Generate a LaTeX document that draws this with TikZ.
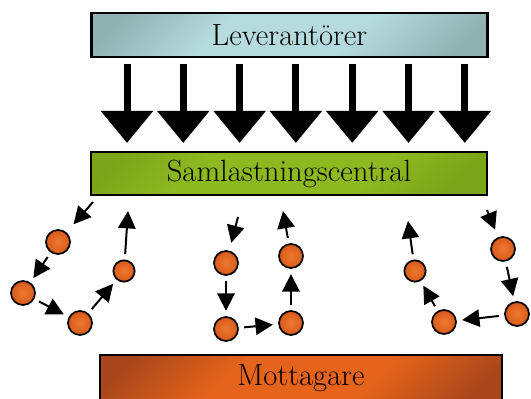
\documentclass[tikz,border=0pt]{standalone}
\usetikzlibrary{arrows.meta}
\definecolor{levblue}{HTML}{B6DBDE}
\definecolor{levedge}{HTML}{90B1B2}
\definecolor{samgreen}{HTML}{8DB820}
\definecolor{samedge}{HTML}{7CA519}
\definecolor{motorange}{HTML}{E5631A}
\definecolor{motedge}{HTML}{A8471B}
\definecolor{dotorange}{HTML}{D9591A}
\definecolor{dotlight}{HTML}{EC7A30}
\pgfdeclareverticalshading{levshade}{100bp}{color(0bp)=(levedge); color(20bp)=(levedge); color(40bp)=(levblue); color(62bp)=(levblue); color(80bp)=(levedge); color(100bp)=(levedge)}
\pgfdeclareverticalshading{samshade}{100bp}{color(0bp)=(samedge); color(22bp)=(samedge); color(36bp)=(samgreen); color(66bp)=(samgreen); color(80bp)=(samedge); color(100bp)=(samedge)}
\pgfdeclareverticalshading{motshade}{100bp}{color(0bp)=(motedge); color(20bp)=(motedge); color(38bp)=(motorange); color(62bp)=(motorange); color(80bp)=(motedge); color(100bp)=(motedge)}
\tikzset{
  box/.style={draw=black, line width=1.6pt, shade, shading angle=45, minimum width=297pt, minimum height=33pt, inner sep=0pt, font=\fontsize{23}{27}\selectfont},
  dot/.style={circle, draw=black, line width=1.3pt, inner color=dotlight, outer color=dotorange, minimum size=18pt, inner sep=0pt},
  hop/.style={line width=1.5pt, -{Triangle[length=13pt,width=13pt]}, shorten <=4pt, shorten >=4pt},
  fat/.style={line width=5.25pt, -{Triangle[length=24pt,width=38pt]}, shorten <=4.5pt, shorten >=6pt}
}
\begin{document}
\begin{tikzpicture}[x=0.75pt,y=-0.75pt]
\useasboundingbox (0,0) rectangle (531,399);
% the three boxes
\node[box, shading=levshade] (lev) at (289.5,35) {Leverant\"orer};
\node[box, shading=samshade, minimum height=32.25pt] (sam) at (289,173.5) {Samlastningscentral};
\node[box, shading=motshade, minimum width=301.5pt, minimum height=34.5pt] (mot) at (301,378) {Mottagare};
% big arrows
\foreach \i [evaluate=\i as \x using 127+56.3*\i] in {0,...,6}
  \draw[fat] (\x,0 |- lev.south) -- (\x,0 |- sam.north);
% dots
\node[dot] (c1) at (58,242) {};\node[dot] (c2) at (23,293) {};\node[dot] (c3) at (80,323) {};\node[dot, minimum size=16pt] (c4) at (124,271) {};
\node[dot] (c5) at (226,263) {};\node[dot] (c6) at (226,329) {};\node[dot] (c7) at (291,256) {};\node[dot] (c8) at (291,323) {};
\node[dot, minimum size=16pt] (c9) at (415,271) {};\node[dot] (c10) at (444,322) {};\node[dot] (c11) at (503,249) {};\node[dot] (c12) at (517,314) {};
\coordinate (s1) at (93,202);\coordinate (e1) at (128,211);
\coordinate (s2) at (238,217);\coordinate (e2) at (283,211);
\coordinate (s3) at (487,210);\coordinate (e3) at (408,221);
% tours
\draw[hop, shorten <=0pt, shorten >=8pt] (s1) -- (c1);\draw[hop] (c1) -- (c2);\draw[hop] (c2) -- (c3);\draw[hop] (c3) -- (c4);\draw[hop, shorten >=0pt] (c4) -- (e1);
\draw[hop, shorten <=0pt, shorten >=6pt] (s2) -- (c5);\draw[hop] (c5) -- (c6);\draw[hop] (c6) -- (c8);\draw[hop] (c8) -- (c7);\draw[hop, shorten >=0pt] (c7) -- (e2);
\draw[hop, shorten <=0pt, shorten >=6pt] (s3) -- (c11);\draw[hop] (c11) -- (c12);\draw[hop] (c12) -- (c10);\draw[hop] (c10) -- (c9);\draw[hop, shorten >=0pt] (c9) -- (e3);
\end{tikzpicture}
\end{document}
